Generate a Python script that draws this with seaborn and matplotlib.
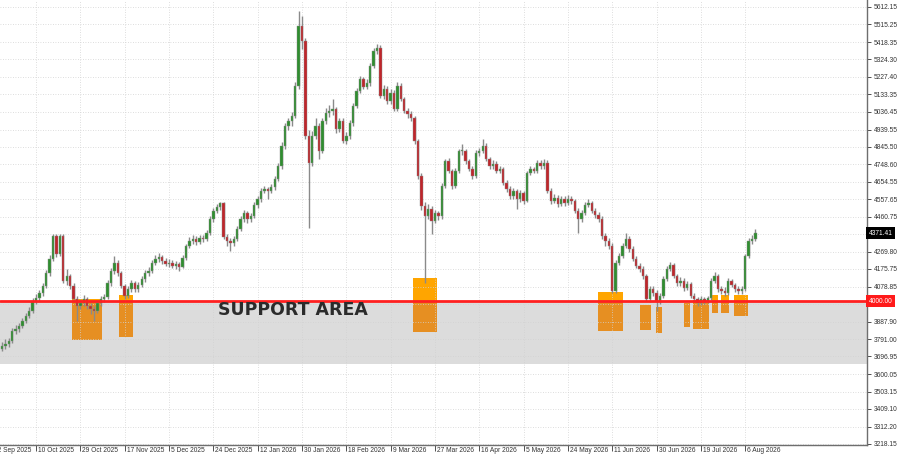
import numpy as np
import pandas as pd
import matplotlib
matplotlib.use("Agg")
import matplotlib.pyplot as plt
import matplotlib.transforms as mtransforms
from matplotlib.patches import Rectangle
import seaborn as sns

# ---------------- data ----------------
first_bar = 3  # index of first visible daily bar

closes = [
    3755, 3766, 3782, 3837, 3848, 3865, 3892, 3919, 3947, 4001,
    4018, 4045, 4084, 4155, 4232, 4358, 4259, 4358, 4111, 4139,
    4084, 4012, 3974, 3991, 4012, 3974, 3958, 3947, 3991, 4012,
    4023, 4100, 4166, 4210, 4155, 4084, 4029, 4067, 4100, 4067,
    4089, 4122, 4155, 4166, 4210, 4232, 4243, 4221, 4204, 4210,
    4193, 4204, 4188, 4237, 4303, 4330, 4341, 4325, 4347, 4341,
    4374, 4451, 4495, 4517, 4538, 4352, 4330, 4319, 4341, 4396,
    4451, 4484, 4451, 4467, 4527, 4560, 4604, 4615, 4604, 4626,
    4670, 4741, 4851, 4960, 4988, 5015, 5179, 5508, 5426, 4906,
    4758, 4906, 4960, 4823, 4988, 5031, 5042, 5053, 4944, 4988,
    4878, 4906, 4977, 5070, 5152, 5218, 5174, 5196, 5289, 5371,
    5388, 5125, 5163, 5097, 5141, 5053, 5179, 5108, 5042, 5026,
    5004, 4878, 4686, 4522, 4467, 4506, 4440, 4484, 4467, 4632,
    4768, 4714, 4632, 4714, 4823, 4823, 4768, 4725, 4686, 4812,
    4823, 4851, 4779, 4741, 4752, 4714, 4725, 4648, 4615, 4577,
    4604, 4560, 4593, 4549, 4703, 4725, 4714, 4758, 4741, 4758,
    4604, 4549, 4566, 4533, 4560, 4538, 4560, 4549, 4495, 4451,
    4484, 4527, 4538, 4495, 4473, 4451, 4358, 4330, 4303, 4056,
    4210, 4248, 4303, 4341, 4286, 4232, 4193, 4177, 4139, 4012,
    4067, 4045, 4001, 4029, 4122, 4177, 4199, 4139, 4100, 4111,
    4073, 4095, 4029, 4012, 3991, 4012, 4001, 4018, 4111, 4139,
    4067, 4056, 4045, 4111, 4089, 4067, 4056, 4067, 4248, 4330,
    4341, 4371.41,
]

opens = [
    3740, 3755, 3766, 3782, 3837, 3848, 3865, 3892, 3919, 3947,
    4001, 4018, 4045, 4084, 4155, 4232, 4358, 4259, 4358, 4111,
    4139, 4084, 4012, 3974, 3991, 4012, 3974, 3958, 3947, 3991,
    4012, 4023, 4100, 4166, 4210, 4155, 4084, 4029, 4067, 4100,
    4067, 4089, 4122, 4155, 4166, 4210, 4232, 4243, 4221, 4204,
    4210, 4193, 4204, 4188, 4237, 4303, 4330, 4341, 4325, 4347,
    4341, 4374, 4451, 4495, 4517, 4538, 4352, 4330, 4319, 4341,
    4396, 4451, 4484, 4451, 4467, 4527, 4560, 4604, 4615, 4604,
    4626, 4670, 4741, 4851, 4960, 4988, 5015, 5179, 5508, 5426,
    4906, 4758, 4906, 4960, 4823, 4988, 5031, 5042, 5053, 4944,
    4988, 4878, 4906, 4977, 5070, 5152, 5218, 5174, 5196, 5289,
    5371, 5388, 5125, 5163, 5097, 5141, 5053, 5179, 5108, 5042,
    5026, 5004, 4878, 4686, 4522, 4467, 4506, 4440, 4484, 4467,
    4632, 4768, 4714, 4632, 4714, 4823, 4823, 4768, 4725, 4686,
    4812, 4823, 4851, 4779, 4741, 4752, 4714, 4725, 4648, 4615,
    4577, 4604, 4560, 4593, 4549, 4703, 4725, 4714, 4758, 4741,
    4758, 4604, 4549, 4566, 4533, 4560, 4538, 4560, 4549, 4495,
    4451, 4484, 4527, 4538, 4495, 4473, 4451, 4358, 4330, 4303,
    4056, 4210, 4248, 4303, 4341, 4286, 4232, 4193, 4177, 4139,
    4012, 4067, 4045, 4001, 4029, 4122, 4177, 4199, 4139, 4100,
    4111, 4073, 4095, 4029, 4012, 3991, 4012, 4001, 4018, 4111,
    4139, 4067, 4056, 4045, 4111, 4089, 4067, 4056, 4067, 4248,
    4330, 4341,
]

highs = [
    3775, 3790, 3800, 3850, 3870, 3880, 3910, 3935, 3965, 4015,
    4040, 4060, 4100, 4170, 4250, 4369, 4365, 4369, 4365, 4175,
    4150, 4100, 4030, 4010, 4035, 4025, 3990, 3975, 4005, 4030,
    4040, 4115, 4180, 4248, 4225, 4165, 4095, 4085, 4115, 4110,
    4105, 4135, 4170, 4185, 4225, 4250, 4262, 4255, 4235, 4228,
    4225, 4220, 4215, 4250, 4315, 4350, 4360, 4355, 4360, 4362,
    4390, 4465, 4510, 4530, 4545, 4545, 4370, 4345, 4355, 4410,
    4465, 4500, 4495, 4485, 4540, 4575, 4620, 4630, 4625, 4640,
    4685, 4755, 4870, 4975, 5005, 5035, 5200, 5590, 5560, 5440,
    4935, 4930, 5000, 4975, 5000, 5060, 5075, 5108, 5065, 5005,
    5000, 4925, 4990, 5085, 5165, 5235, 5230, 5215, 5305, 5385,
    5409, 5400, 5185, 5180, 5160, 5155, 5200, 5195, 5120, 5060,
    5040, 5015, 4890, 4700, 4540, 4530, 4520, 4500, 4495, 4645,
    4780, 4785, 4725, 4730, 4835, 4860, 4835, 4780, 4740, 4825,
    4840, 4889, 4865, 4790, 4770, 4765, 4740, 4735, 4665, 4630,
    4620, 4615, 4610, 4605, 4715, 4740, 4735, 4770, 4770, 4780,
    4770, 4620, 4585, 4580, 4575, 4575, 4580, 4575, 4560, 4510,
    4500, 4545, 4560, 4550, 4510, 4490, 4465, 4375, 4345, 4320,
    4225, 4265, 4320, 4374, 4355, 4300, 4245, 4210, 4190, 4150,
    4085, 4080, 4060, 4045, 4135, 4190, 4215, 4210, 4150, 4130,
    4125, 4110, 4105, 4045, 4025, 4030, 4025, 4030, 4125, 4160,
    4150, 4085, 4075, 4125, 4120, 4100, 4080, 4080, 4260, 4345,
    4360, 4395,
]

lows = [
    3725, 3740, 3750, 3770, 3820, 3830, 3850, 3878, 3905, 3935,
    3985, 4000, 4030, 4070, 4140, 4220, 4240, 4245, 4100, 4090,
    4065, 3995, 3892, 3955, 3975, 3955, 3930, 3890, 3935, 3975,
    3995, 4010, 4085, 4150, 4140, 4070, 4010, 4015, 4050, 4050,
    4050, 4075, 4105, 4140, 4155, 4195, 4215, 4205, 4190, 4188,
    4180, 4175, 4165, 4180, 4225, 4290, 4310, 4305, 4310, 4325,
    4330, 4360, 4435, 4480, 4500, 4340, 4300, 4275, 4300, 4330,
    4385, 4435, 4430, 4435, 4455, 4510, 4545, 4590, 4560, 4590,
    4610, 4655, 4725, 4835, 4935, 4960, 5000, 5160, 5380, 4890,
    4400, 4740, 4890, 4780, 4810, 4970, 5010, 5020, 4920, 4925,
    4865, 4860, 4890, 4960, 5055, 5140, 5160, 5160, 5180, 5275,
    5355, 5110, 5105, 5080, 5080, 5040, 5040, 5095, 5030, 5000,
    4985, 4860, 4670, 4500, 4100, 4450, 4369, 4425, 4445, 4450,
    4620, 4700, 4615, 4620, 4700, 4800, 4750, 4710, 4670, 4675,
    4795, 4810, 4765, 4725, 4725, 4700, 4700, 4635, 4600, 4560,
    4560, 4505, 4545, 4530, 4540, 4690, 4700, 4700, 4725, 4725,
    4590, 4530, 4535, 4515, 4520, 4520, 4525, 4530, 4480, 4375,
    4435, 4470, 4515, 4480, 4455, 4435, 4340, 4300, 4285, 4045,
    4045, 4195, 4235, 4290, 4270, 4220, 4180, 4160, 4120, 4000,
    3995, 4030, 3947, 3985, 4015, 4110, 4165, 4125, 4085, 4085,
    4055, 4060, 4015, 3995, 3975, 3980, 3985, 3990, 4005, 4100,
    4050, 4040, 4030, 4035, 4075, 4050, 4040, 4040, 4055, 4235,
    4315, 4330,
]

date_labels = [
    "22 Sep 2025", "10 Oct 2025", "29 Oct 2025", "17 Nov 2025", "5 Dec 2025",
    "24 Dec 2025", "12 Jan 2026", "30 Jan 2026", "18 Feb 2026", "9 Mar 2026",
    "27 Mar 2026", "16 Apr 2026", "5 May 2026", "24 May 2026", "11 Jun 2026",
    "30 Jun 2026", "19 Jul 2026", "6 Aug 2026",
]

price_ticks = [
    5612.15, 5515.25, 5418.35, 5324.30, 5227.40, 5133.35, 5036.45, 4939.55,
    4845.50, 4748.60, 4654.55, 4557.65, 4460.75, 4366.70, 4269.80, 4175.75,
    4078.85, 3981.95, 3887.90, 3791.00, 3696.95, 3600.05, 3503.15, 3409.10,
    3312.20, 3218.15,
]
# tick labels hidden behind the price flags in the reference
hidden_tick_labels = [4366.70, 3981.95]

support_level = 4000.00
support_zone_low = 3655
current_price = 4371.41

# orange reaction zones: start bar, end bar, top price, bottom price
zone_start = [23.6, 37.3, 123.6, 177.8, 190.1, 194.8, 203.0, 205.7, 211.2, 213.9, 217.7]
zone_end = [32.4, 41.4, 130.6, 185.1, 193.4, 196.6, 204.8, 210.4, 213.0, 216.2, 221.8]
zone_top = [4011, 4032, 4126, 4050, 3979, 3968, 3990, 4007, 4034, 4034, 4034]
zone_bottom = [3788, 3802, 3830, 3836, 3842, 3825, 3858, 3847, 3935, 3935, 3919]

# ---------------- figure ----------------
sns.set_theme(style="white")
plt.rcParams["font.family"] = ["Liberation Sans", "DejaVu Sans"]

W, H = 900, 455
fig = plt.figure(figsize=(W / 100, H / 100), dpi=100)
ax = fig.add_axes([0, (H - 445) / H, 867 / W, 445 / H])

df = pd.DataFrame({"open": opens, "high": highs, "low": lows, "close": closes})
df["bar"] = np.arange(first_bar, first_bar + len(df))
df["up"] = df["close"] >= df["open"]

ax.set_xlim(2.44, 256.7)
ax.set_ylim(3211.8, 5649)

# support zone background
ax.axhspan(support_zone_low, support_level, color="#dcdcdc", zorder=0.5, lw=0)

# orange zones (lighter above the line, deeper inside the grey zone)
for x0, x1, top, bot in zip(zone_start, zone_end, zone_top, zone_bottom):
    if top > support_level:
        lo = max(bot, support_level)
        ax.add_patch(Rectangle((x0, lo), x1 - x0, top - lo, facecolor="#ffa500",
                               edgecolor="none", zorder=1))
    if bot < support_level:
        hi = min(top, support_level)
        ax.add_patch(Rectangle((x0, bot), x1 - x0, hi - bot, facecolor="#e68f22",
                               edgecolor="none", zorder=1))

# candles
ax.vlines(df["bar"], df["low"], df["high"], color="#8a8a8a", lw=1.0, zorder=3)
body = (df["close"] - df["open"]).to_numpy(dtype=float)
body = np.where(np.abs(body) < 3, np.sign(body + 1e-9) * 3, body)
colors = np.where(df["up"], "#2f8f2f", "#c0262b")
ax.bar(df["bar"], body, bottom=df["open"], width=0.7, color=colors,
       edgecolor="#8a8a8a", linewidth=0.3, zorder=4)

# support line
ax.axhline(support_level, color="#ff2020", lw=2, zorder=5)

ax.text(66.4, 3951, "SUPPORT AREA", fontsize=12.5, fontweight="bold",
        family=["DejaVu Sans"], color="#2b2b2b", ha="left", va="center", zorder=6)

# grid
ax.set_axisbelow("line")
label_bars = [13 * k for k in range(len(date_labels))]
ax.set_xticks(label_bars[1:])
ax.set_xticklabels([])
ax.set_yticks(price_ticks)
ax.yaxis.tick_right()
ax.set_yticklabels(["" if v in hidden_tick_labels else f"{v:.2f}" for v in price_ticks],
                   fontsize=4.8, color="#333333")
ax.tick_params(axis="y", which="major", direction="out", length=3, width=0.6,
               pad=2, colors="#333333", right=True, left=False)
ax.tick_params(axis="x", which="major", direction="out", length=4, width=0.6,
               colors="#333333", bottom=True)
ax.grid(True, color="#d2d2d2", linestyle=(0, (1, 2)), lw=0.6)

# date labels (left aligned after each tick)
trans = mtransforms.blended_transform_factory(ax.transData, ax.transAxes)
offset = mtransforms.ScaledTranslation(2 / 100, -2 / 100, fig.dpi_scale_trans)
for b, lab in zip(label_bars, date_labels):
    ax.text(b, 0, lab, transform=trans + offset, fontsize=4.8, color="#333333",
            ha="left", va="top", clip_on=False)

# spines
for s in ["top", "left"]:
    ax.spines[s].set_visible(False)
for s in ["right", "bottom"]:
    ax.spines[s].set_color("#6e6e6e")
    ax.spines[s].set_linewidth(1.0)

# price flags on the right axis
ytrans = mtransforms.blended_transform_factory(ax.transAxes, ax.transData)
ax.text(1.002, current_price, f"{current_price:.2f}", transform=ytrans, fontsize=4.8,
        color="white", ha="left", va="center", clip_on=False, zorder=10,
        bbox=dict(boxstyle="square,pad=0.35", fc="black", ec="none"))
ax.text(1.002, support_level, f"{support_level:.2f}", transform=ytrans, fontsize=4.8,
        color="white", ha="left", va="center", clip_on=False, zorder=10,
        bbox=dict(boxstyle="square,pad=0.35", fc="#ff1a1a", ec="none"))

fig.savefig("out.png", dpi=100)
